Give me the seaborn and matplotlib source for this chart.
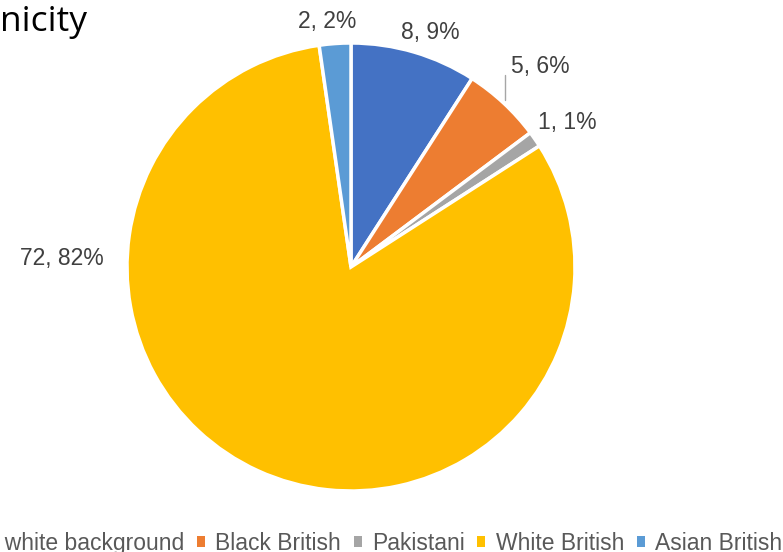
import matplotlib
matplotlib.use("Agg")
import matplotlib.pyplot as plt
from matplotlib.patches import Patch
import seaborn as sns

# ---- data ----
categories = ["Other white background", "Black British", "Pakistani", "White British", "Asian British"]
counts = [8, 5, 1, 72, 2]
percent_labels = ["9%", "6%", "1%", "82%", "2%"]
colors = ["#4472C4", "#ED7D31", "#A5A5A5", "#FFC000", "#5B9BD5"]
title = "Ethnicity"

# label positions (axes data units, pie radius = 1)
label_pos = [(0.353, 1.049), (0.844, 0.897), (0.964, 0.647), (-1.29, 0.04), (-0.107, 1.094)]

sns.set_theme(style="white")
plt.rcParams["font.family"] = ["Liberation Sans", "DejaVu Sans"]

W, H = 783, 552
fig = plt.figure(figsize=(W / 100, H / 100), dpi=100)
fig.patch.set_facecolor("white")

cx, cy, r = 351, 267, 224
ax = fig.add_axes([(cx - r) / W, (H - cy - r) / H, 2 * r / W, 2 * r / H])
wedges, _ = ax.pie(counts, colors=colors, startangle=90, counterclock=False,
                   radius=1.0,
                   wedgeprops=dict(edgecolor="white", linewidth=2.5))
ax.set_xlim(-1, 1)
ax.set_ylim(-1, 1)
ax.set_aspect("equal")
ax.axis("off")

for (x, y), c, p in zip(label_pos, counts, percent_labels):
    ax.text(x, y, f"{c}, {p}", ha="center", va="center", fontsize=16.5,
            color="#404040", clip_on=False)

# leader line for Black British
ax.plot([0.6875, 0.6875], [0.746, 0.857], color="#A6A6A6", lw=1, clip_on=False)

# title (cropped at left edge)
fig.text(88 / W, 1 - 31 / H, title, ha="right", va="baseline", fontsize=25.5,
         color="#000000", family=["Open Sans", "DejaVu Sans"])

handles = [Patch(facecolor=c, edgecolor="none") for c in colors]
leg = fig.legend(handles, categories, loc="lower right", bbox_to_anchor=(782 / W, -3 / H),
                 ncol=5, frameon=False, fontsize=16.5, handlelength=0.35, handleheight=0.35,
                 handletextpad=0.45, columnspacing=0.55, borderaxespad=0, borderpad=0)
for t in leg.get_texts():
    t.set_color("#595959")

fig.savefig("out.png", dpi=100, facecolor="white")
